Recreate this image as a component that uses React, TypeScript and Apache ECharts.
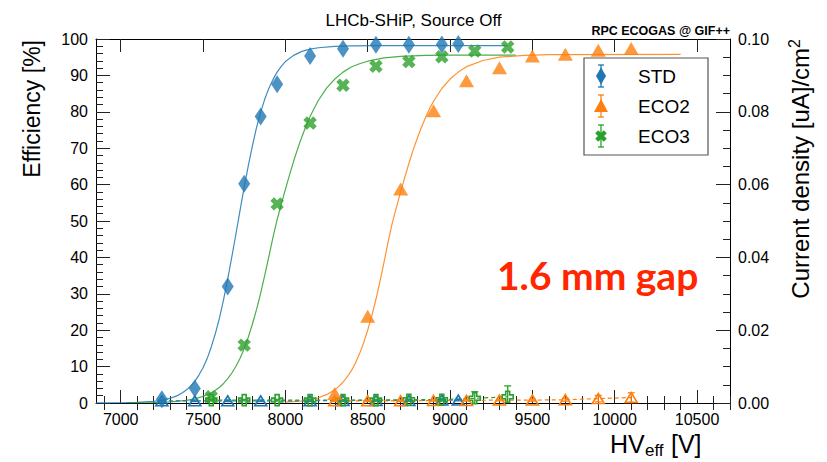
import React, { useEffect, useRef } from "react";
import * as echarts from "echarts";

// ---------- data ----------
const X_MAJOR = [7000, 7500, 8000, 8500, 9000, 9500, 10000, 10500];
const X_MINOR = [6900, 7100, 7200, 7300, 7400, 7600, 7700, 7800, 7900, 8100, 8200, 8300, 8400, 8600, 8700, 8800, 8900, 9100, 9200, 9300, 9400, 9600, 9700, 9800, 9900, 10100, 10200, 10300, 10400, 10600, 10700];

const STD_HV = [7250, 7450, 7650, 7750, 7850, 7950, 8150, 8350, 8550, 8750, 8950, 9050];
const STD_EFF = [1.0, 4.0, 32.0, 60.2, 78.7, 87.6, 95.3, 97.3, 98.4, 98.4, 98.5, 98.6];

const ECO2_HV = [8300, 8500, 8700, 8900, 9100, 9300, 9500, 9700, 9900, 10100];
const ECO2_EFF = [2.6, 23.8, 58.8, 80.3, 88.5, 92.1, 95.3, 95.8, 96.9, 97.4];

const ECO3_HV = [7550, 7750, 7950, 8150, 8350, 8550, 8750, 8950, 9150, 9350];
const ECO3_EFF = [1.7, 15.9, 54.7, 76.9, 87.3, 92.5, 93.8, 95.1, 96.7, 97.8];

// fitted curves
const STD_FIT_HV = [6850, 7000, 7100, 7200, 7250, 7300, 7325, 7350, 7375, 7400, 7425, 7450, 7475, 7500, 7525, 7550, 7575, 7600, 7625, 7650, 7675, 7700, 7725, 7750, 7775, 7800, 7825, 7850, 7875, 7900, 7925, 7950, 7975, 8000, 8050, 8100, 8150, 8200, 8300, 8400, 8550, 9350];
const STD_FIT_EFF = [0.01, 0.06, 0.16, 0.46, 0.77, 1.29, 1.68, 2.17, 2.8, 3.62, 4.68, 5.95, 7.67, 9.7, 12.2, 15.4, 19.1, 23.4, 28.5, 34.1, 40.2, 46.5, 53.0, 59.3, 65.2, 70.7, 75.7, 79.9, 83.5, 86.5, 88.9, 90.9, 92.5, 93.8, 95.5, 96.6, 97.2, 97.6, 98.0, 98.1, 98.2, 98.2];

const ECO3_FIT_HV = [7050, 7200, 7300, 7400, 7450, 7500, 7550, 7575, 7600, 7625, 7650, 7675, 7700, 7725, 7750, 7775, 7800, 7825, 7850, 7875, 7900, 7925, 7950, 7975, 8000, 8025, 8050, 8075, 8100, 8125, 8150, 8175, 8200, 8250, 8300, 8350, 8400, 8450, 8500, 8600, 8700, 8850, 9000, 9400];
const ECO3_FIT_EFF = [0.03, 0.12, 0.3, 0.74, 1.15, 1.81, 2.8, 3.5, 4.33, 5.37, 6.68, 8.24, 10.1, 12.3, 15.0, 18.1, 21.7, 25.7, 30.2, 35.1, 40.3, 45.6, 50.4, 54.6, 58.7, 62.6, 66.4, 69.9, 73.1, 76.1, 78.7, 81.0, 83.1, 86.5, 89.0, 90.9, 92.3, 93.2, 93.9, 94.8, 95.2, 95.5, 95.55, 95.6];

const ECO2_FIT_HV = [8000, 8100, 8200, 8250, 8300, 8325, 8350, 8375, 8400, 8425, 8450, 8475, 8500, 8525, 8550, 8575, 8600, 8625, 8650, 8675, 8700, 8725, 8750, 8775, 8800, 8825, 8850, 8875, 8900, 8950, 9000, 9050, 9100, 9200, 9300, 9450, 9600, 10400];
const ECO2_FIT_EFF = [0.22, 0.56, 1.43, 2.29, 3.61, 4.56, 5.7, 7.15, 8.81, 10.9, 13.5, 16.5, 20.0, 24.0, 28.5, 33.5, 38.9, 44.5, 49.6, 53.9, 58.0, 62.0, 65.8, 69.4, 72.6, 75.6, 78.3, 80.8, 82.9, 86.4, 89.0, 90.9, 92.4, 94.1, 95.0, 95.5, 95.7, 95.8];

// current density [uA/cm2]
const STD_CUR_HV = [7250, 7450, 7650, 7850, 8150, 8350, 8550, 8750, 8950, 9050];
const STD_CUR = [0.0006, 0.0006, 0.0006, 0.0006, 0.0006, 0.0007, 0.0007, 0.0007, 0.0008, 0.0008];
const STD_CUR_ERR = [0.0002, 0.0002, 0.0002, 0.0002, 0.0002, 0.0002, 0.0002, 0.0002, 0.0002, 0.0002];

const ECO2_CUR_HV = [8300, 8500, 8700, 8900, 9100, 9300, 9500, 9700, 9900, 10100];
const ECO2_CUR = [0.0006, 0.0006, 0.0006, 0.0007, 0.0007, 0.0008, 0.0008, 0.0009, 0.0012, 0.0015];
const ECO2_CUR_ERR = [0.0002, 0.0002, 0.0002, 0.0002, 0.0002, 0.0002, 0.0003, 0.0004, 0.0009, 0.0013];

const ECO3_CUR_HV = [7550, 7750, 7950, 8150, 8350, 8550, 8750, 8950, 9150, 9350];
const ECO3_CUR = [0.0008, 0.0008, 0.0008, 0.0008, 0.0008, 0.0008, 0.0009, 0.0009, 0.0013, 0.0017];
const ECO3_CUR_ERR = [0.0002, 0.0002, 0.0002, 0.0002, 0.0002, 0.0002, 0.0002, 0.0003, 0.0018, 0.003];

const SERIES_NAMES = ["STD", "ECO2", "ECO3"];
const COLORS = ["#1f77b4", "#ff7f0e", "#2ca02c"];

// ---------- helpers ----------
const FONT = "'Liberation Sans', Arial, Helvetica, sans-serif";
const zip = (a: number[], b: number[]) => a.map((v, i) => [v, b[i]]);
const CROSS = "path://M3.2,0L6.8,0L6.8,3.2L10,3.2L10,6.8L6.8,6.8L6.8,10L3.2,10L3.2,6.8L0,6.8L0,3.2L3.2,3.2Z";

const errorSeries = (hv: number[], val: number[], err: number[], color: string) => ({
  type: "custom",
  xAxisIndex: 0,
  yAxisIndex: 1,
  clip: true,
  z: 4,
  encode: { x: 0, y: [1, 2] },
  data: hv.map((h, i) => [h, val[i] - err[i], val[i] + err[i]]),
  renderItem: (_p: any, api: any) => {
    const x = api.value(0);
    const lo = api.coord([x, api.value(1)]);
    const hi = api.coord([x, api.value(2)]);
    const st = { stroke: color, lineWidth: 1.3 };
    return {
      type: "group",
      children: [
        { type: "line", shape: { x1: lo[0], y1: lo[1], x2: hi[0], y2: hi[1] }, style: st },
        { type: "line", shape: { x1: hi[0] - 3.5, y1: hi[1], x2: hi[0] + 3.5, y2: hi[1] }, style: st },
        { type: "line", shape: { x1: lo[0] - 3.5, y1: lo[1], x2: lo[0] + 3.5, y2: lo[1] }, style: st },
      ],
    };
  },
});

const xAxisBase = {
  type: "value",
  min: 6850,
  max: 10700,
  splitLine: { show: false },
  axisLine: { show: false },
  axisLabel: { show: false },
};

const legendEntry = (i: number) => {
  const cy = 76 + 30 * i;
  const cx = 601;
  const color = COLORS[i];
  const st = { stroke: color, lineWidth: 1.3 };
  let marker: any;
  if (i === 0) {
    marker = { type: "polygon", z: 12, shape: { points: [[cx, cy - 8.5], [cx + 5, cy], [cx, cy + 8.5], [cx - 5, cy]] }, style: { fill: color } };
  } else if (i === 1) {
    marker = { type: "polygon", z: 12, shape: { points: [[cx, cy - 7], [cx + 7, cy + 6], [cx - 7, cy + 6]] }, style: { fill: color } };
  } else {
    const a = 2.2, b = 6;
    marker = {
      type: "polygon",
      z: 12,
      x: cx,
      y: cy,
      rotation: Math.PI / 4,
      shape: { points: [[-a, -b], [a, -b], [a, -a], [b, -a], [b, a], [a, a], [a, b], [-a, b], [-a, a], [-b, a], [-b, -a], [-a, -a]] },
      style: { fill: color },
    };
  }
  return [
    { type: "line", z: 11, shape: { x1: cx, y1: cy - 11, x2: cx, y2: cy + 11 }, style: st },
    { type: "line", z: 11, shape: { x1: cx - 3, y1: cy - 11, x2: cx + 3, y2: cy - 11 }, style: st },
    { type: "line", z: 11, shape: { x1: cx - 3, y1: cy + 11, x2: cx + 3, y2: cy + 11 }, style: st },
    marker,
    {
      type: "text",
      z: 12,
      x: 638,
      y: cy,
      style: { text: SERIES_NAMES[i], fontSize: 19, fontFamily: FONT, fill: "#000", verticalAlign: "middle" },
    },
  ];
};

export default function App() {
  const ref = useRef<HTMLDivElement>(null);
  useEffect(() => {
    const chart = echarts.init(ref.current!, null, { renderer: "svg" });
    const tickStyle = { color: "#222", width: 1 };
    const option: any = {
      animation: false,
      backgroundColor: "#fff",
      title: {
        text: "LHCb-SHiP, Source Off",
        left: "center",
        top: 7,
        textStyle: { fontSize: 17, fontWeight: "normal", fontFamily: FONT, color: "#000" },
      },
      grid: { left: 96, right: 97, top: 39, bottom: 59, containLabel: false },
      xAxis: [
        {
          ...xAxisBase,
          position: "bottom",
          axisLine: { show: true, onZero: false, lineStyle: { color: "#000", width: 1 } },
          axisTick: { show: true, inside: true, length: 13, customValues: X_MAJOR, lineStyle: tickStyle },
          axisLabel: { show: true, customValues: X_MAJOR, fontSize: 16, fontFamily: FONT, color: "#000", margin: 8, formatter: (v: number) => String(v) },
        },
        { ...xAxisBase, position: "bottom", axisTick: { show: true, inside: true, length: 7, customValues: X_MINOR, lineStyle: tickStyle } },
        {
          ...xAxisBase,
          position: "top",
          axisLine: { show: true, onZero: false, lineStyle: { color: "#000", width: 1 } },
          axisTick: { show: true, inside: true, length: 13, customValues: X_MAJOR, lineStyle: tickStyle },
        },
        { ...xAxisBase, position: "top", axisTick: { show: true, inside: true, length: 7, customValues: X_MINOR, lineStyle: tickStyle } },
      ],
      yAxis: [
        {
          type: "value",
          min: 0,
          max: 100,
          interval: 10,
          position: "left",
          splitLine: { show: false },
          axisLine: { show: true, onZero: false, lineStyle: { color: "#000", width: 1 } },
          axisTick: { show: true, inside: true, length: 14, lineStyle: tickStyle },
          minorTick: { show: true, splitNumber: 5, length: 7, lineStyle: tickStyle },
          axisLabel: { fontSize: 16, fontFamily: FONT, color: "#000", margin: 8 },
        },
        {
          type: "value",
          min: 0,
          max: 0.1,
          interval: 0.02,
          position: "right",
          splitLine: { show: false },
          axisLine: { show: true, onZero: false, lineStyle: { color: "#000", width: 1 } },
          axisTick: { show: true, inside: true, length: 14, lineStyle: tickStyle },
          minorTick: { show: true, splitNumber: 4, length: 7, lineStyle: tickStyle },
          axisLabel: { fontSize: 16, fontFamily: FONT, color: "#000", margin: 8, formatter: (v: number) => v.toFixed(2) },
        },
      ],
      series: [
        // fits
        ...[
          [STD_FIT_HV, STD_FIT_EFF],
          [ECO2_FIT_HV, ECO2_FIT_EFF],
          [ECO3_FIT_HV, ECO3_FIT_EFF],
        ].map(([hv, ef], i) => ({
          name: SERIES_NAMES[i] + " fit",
          type: "line",
          xAxisIndex: 0,
          yAxisIndex: 0,
          data: zip(hv, ef),
          showSymbol: false,
          smooth: false,
          lineStyle: { color: COLORS[i], width: 1.2, opacity: 0.85 },
          z: 2,
        })),
        // current density (open markers, dashed)
        ...[
          [STD_CUR_HV, STD_CUR, "triangle"],
          [ECO2_CUR_HV, ECO2_CUR, "triangle"],
          [ECO3_CUR_HV, ECO3_CUR, CROSS],
        ].map(([hv, cur, sym]: any, i) => ({
          name: SERIES_NAMES[i] + " current",
          type: "line",
          xAxisIndex: 0,
          yAxisIndex: 1,
          data: zip(hv, cur),
          symbol: sym,
          symbolSize: i === 2 ? 11 : [12, 10],
          showSymbol: true,
          lineStyle: { color: COLORS[i], width: 1.2, type: [4, 3] },
          itemStyle: { color: "rgba(255,255,255,0)", borderColor: COLORS[i], borderWidth: 1.6 },
          z: 3,
        })),
        errorSeries(STD_CUR_HV, STD_CUR, STD_CUR_ERR, COLORS[0]),
        errorSeries(ECO2_CUR_HV, ECO2_CUR, ECO2_CUR_ERR, COLORS[1]),
        errorSeries(ECO3_CUR_HV, ECO3_CUR, ECO3_CUR_ERR, COLORS[2]),
        // efficiency markers
        {
          name: "STD",
          type: "scatter",
          xAxisIndex: 0,
          yAxisIndex: 0,
          data: zip(STD_HV, STD_EFF),
          symbol: "diamond",
          symbolSize: [12, 18],
          itemStyle: { color: COLORS[0] },
          z: 5,
        },
        {
          name: "ECO2",
          type: "scatter",
          xAxisIndex: 0,
          yAxisIndex: 0,
          data: zip(ECO2_HV, ECO2_EFF),
          symbol: "triangle",
          symbolSize: [15, 13],
          itemStyle: { color: COLORS[1] },
          z: 5,
        },
        {
          name: "ECO3",
          type: "scatter",
          xAxisIndex: 0,
          yAxisIndex: 0,
          data: zip(ECO3_HV, ECO3_EFF),
          symbol: CROSS,
          symbolSize: 14,
          symbolRotate: 45,
          itemStyle: { color: COLORS[2] },
          z: 5,
        },
      ],
      graphic: [
        {
          type: "text",
          right: 97,
          top: 24,
          style: { text: "RPC ECOGAS @ GIF++", fontSize: 12.5, fontWeight: "bold", fontFamily: FONT, fill: "#000" },
        },
        {
          type: "text",
          x: 32,
          y: 40,
          rotation: Math.PI / 2,
          style: { text: "Efficiency [%]", fontSize: 23, fontFamily: FONT, fill: "#000", align: "right", verticalAlign: "middle" },
        },
        {
          type: "text",
          x: 800,
          y: 39,
          rotation: Math.PI / 2,
          style: {
            text: "{a|Current density [uA]/cm}{b|2}",
            align: "right",
            verticalAlign: "middle",
            rich: {
              a: { fontSize: 24, fontFamily: FONT, color: "#000" },
              b: { fontSize: 16, fontFamily: FONT, color: "#000", padding: [0, 0, 12, 0] },
            },
          },
        },
        // x-axis title HV_eff [V], built from three pieces (main text and subscript)
        {
          type: "text",
          x: 610,
          y: 444,
          style: { text: "HV", fontSize: 25, fontFamily: FONT, fill: "#000", verticalAlign: "middle" },
        },
        {
          type: "text",
          x: 645,
          y: 450,
          style: { text: "eff", fontSize: 17, fontFamily: FONT, fill: "#000", verticalAlign: "middle" },
        },
        {
          type: "text",
          x: 671,
          y: 444,
          style: { text: "[V]", fontSize: 25, fontFamily: FONT, fill: "#000", verticalAlign: "middle" },
        },
        {
          type: "text",
          x: 497,
          y: 275,
          style: { text: "1.6 mm gap", fontSize: 39, fontWeight: "bold", fontFamily: "Lato, 'Open Sans', sans-serif", fill: "#ff2600", verticalAlign: "middle" },
        },
        {
          type: "rect",
          z: 10,
          shape: { x: 584, y: 58, width: 124, height: 97 },
          style: { fill: "#fff", stroke: "#555", lineWidth: 1.2 },
        },
        ...legendEntry(0),
        ...legendEntry(1),
        ...legendEntry(2),
      ],
    };
    chart.setOption(option);
    return () => chart.dispose();
  }, []);
  return <div ref={ref} style={{ position: "fixed", left: 0, top: 0, width: 827, height: 462, background: "#fff" }} />;
}
